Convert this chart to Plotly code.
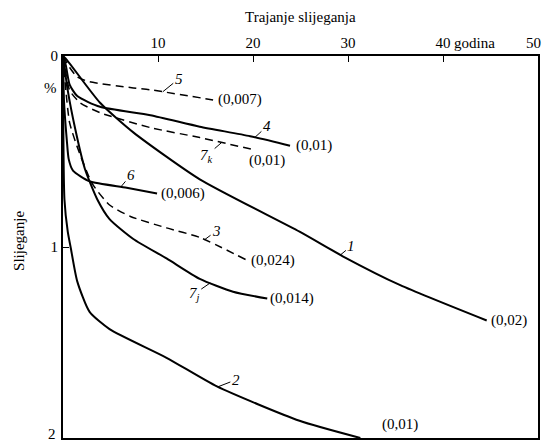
import plotly.graph_objects as go
import numpy as np

# ---- data (years, settlement %) ----
c1_x = [0, 0.4, 3.9, 7.4, 14.4, 24.9, 29.5, 35.5, 44.6]
c1_y = [0, 0.02, 0.245, 0.40, 0.646, 0.92, 1.05, 1.20, 1.385]

c2_x = [0, 0.15, 0.5, 0.8, 1.5, 2.8, 4.9, 10.9, 16.2, 24.9, 31.3]
c2_y = [0, 0.75, 0.92, 1.0, 1.18, 1.34, 1.43, 1.58, 1.73, 1.91, 2.0]

c3_x = [0, 0.3, 0.7, 1.6, 3.1, 4.9, 7.1, 10.9, 14.4, 19.4]
c3_y = [0, 0.18, 0.35, 0.49, 0.67, 0.78, 0.84, 0.90, 0.95, 1.07]

c4_x = [0, 0.3, 0.7, 1.5, 3.9, 9.2, 14.4, 19.7, 23.9]
c4_y = [0, 0.05, 0.15, 0.21, 0.266, 0.31, 0.37, 0.42, 0.47]

c5_x = [0, 0.7, 1.5, 2.8, 7.4, 9.2, 15.8]
c5_y = [0, 0.06, 0.11, 0.135, 0.167, 0.177, 0.23]

c6_x = [0, 0.1, 0.4, 0.6, 1.05, 2.8, 6.7, 9.9]
c6_y = [0, 0.23, 0.44, 0.54, 0.60, 0.656, 0.69, 0.72]

c7j_x = [0, 0.5, 1.3, 2.3, 3.6, 4.9, 7.4, 10.9, 14.4, 17.9, 21.5]
c7j_y = [0, 0.18, 0.385, 0.59, 0.75, 0.854, 0.958, 1.06, 1.167, 1.234, 1.27]

c7k_x = [0, 0.2, 0.7, 1.8, 3.9, 9.2, 14.4, 20.0]
c7k_y = [0, 0.06, 0.18, 0.245, 0.297, 0.375, 0.427, 0.49]

end_labels = ["(0,02)", "(0,01)", "(0,024)", "(0,01)", "(0,007)", "(0,006)", "(0,014)", "(0,01)"]
curve_names = ["1", "2", "3", "4", "5", "6", "7<sub>j</sub>", "7<sub>k</sub>"]

x_tickvals = [10, 20, 30, 40]
x_ticktext = ["10", "20", "30", "40"]
y_tickvals = [0, 1]
y_ticktext = ["0", "1"]

FONT = "Liberation Serif"
FS = 15

curves = [
    (c1_x, c1_y, "solid"), (c2_x, c2_y, "solid"), (c3_x, c3_y, "dash"),
    (c4_x, c4_y, "solid"), (c5_x, c5_y, "dash"), (c6_x, c6_y, "solid"),
    (c7j_x, c7j_y, "solid"), (c7k_x, c7k_y, "dash"),
]

fig = go.Figure()
for xs, ys, st in curves:
    fig.add_trace(go.Scatter(
        x=xs, y=ys, mode="lines", line_shape="spline",
        line=dict(color="black", width=2 if st == "solid" else 1.5,
                  dash="solid" if st == "solid" else "8px,5px", smoothing=0.6),
        showlegend=False, hoverinfo="skip", cliponaxis=False,
    ))

ann = []
end_style = [  # (xanchor, xshift, yshift) per curve
    ("left", 2, 0), ("center", 40, 14), ("left", 2, 0), ("left", 4, 0),
    ("left", 3, 0), ("left", 2, 0), ("left", 1, 0), ("center", 14, -11),
]
for (xs, ys, _), lab, (xa, xsft, ysft) in zip(curves, end_labels, end_style):
    ann.append(dict(x=xs[-1], y=ys[-1], text=lab, showarrow=False, xanchor=xa,
                    xshift=xsft, yshift=ysft, font=dict(family=FONT, size=FS, color="black")))

num_pos = [(0, 29.2, 11, -9), (1, 16.3, 18, -7), (2, 14.9, 12, -9), (3, 20.2, 12, -11),
           (4, 10.5, 16, -13), (5, 6.1, 10, -12), (6, 15.5, -16, 11), (7, 16.7, -15, 13)]
for idx, xv, ax, ay in num_pos:
    xs, ys, _ = curves[idx]
    yv = float(np.interp(xv, xs, ys))
    ann.append(dict(x=xv, y=yv, text="<i>" + curve_names[idx] + "</i>", showarrow=True,
                    arrowhead=0, arrowwidth=1, arrowcolor="black", ax=ax, ay=ay,
                    font=dict(family=FONT, size=FS, color="black")))

ann += [
    dict(x=0.5, xref="paper", y=1, yref="paper", yshift=29, text="Trajanje slijeganja",
         showarrow=False, yanchor="bottom", font=dict(family=FONT, size=FS, color="black")),
    dict(x=40, y=0, yref="y", text="godina", showarrow=False, xanchor="left", yanchor="bottom",
         xshift=9, yshift=3, font=dict(family=FONT, size=FS, color="black")),
    dict(x=50, y=0, yref="y", text="50", showarrow=False, xanchor="center", yanchor="bottom",
         xshift=-5, yshift=3, font=dict(family=FONT, size=FS, color="black")),
    dict(x=0, y=2, text="2", showarrow=False, xanchor="right", yanchor="middle",
         xshift=-5, yshift=4, font=dict(family=FONT, size=FS, color="black")),
    dict(x=0, y=0.17, text="%", showarrow=False, xanchor="right", xshift=-4,
         font=dict(family=FONT, size=FS, color="black")),
    dict(x=0, xref="paper", y=0.516, yref="paper", xshift=-54, text="Slijeganje", textangle=-90,
         showarrow=False, font=dict(family=FONT, size=FS, color="black")),
]

fig.update_layout(
    width=545, height=442, margin=dict(l=63, r=7, t=56, b=2),
    paper_bgcolor="white", plot_bgcolor="white",
    font=dict(family=FONT, size=FS, color="black"),
    annotations=ann,
    xaxis=dict(range=[0, 50], side="top", tickvals=x_tickvals, ticktext=x_ticktext,
               ticks="inside", ticklen=6, tickcolor="black", showgrid=False, zeroline=False,
               showline=True, linecolor="black", linewidth=2, mirror=True,
               tickfont=dict(family=FONT, size=FS, color="black")),
    yaxis=dict(range=[2, 0], tickvals=y_tickvals, ticktext=y_ticktext,
               ticks="inside", ticklen=6, tickcolor="black", showgrid=False, zeroline=False,
               showline=True, linecolor="black", linewidth=2, mirror=True,
               tickfont=dict(family=FONT, size=FS, color="black")),
)

fig.write_html("out.html", config={"displayModeBar": False},
               post_script="document.body.style.margin='0';document.body.style.overflow='hidden';")
